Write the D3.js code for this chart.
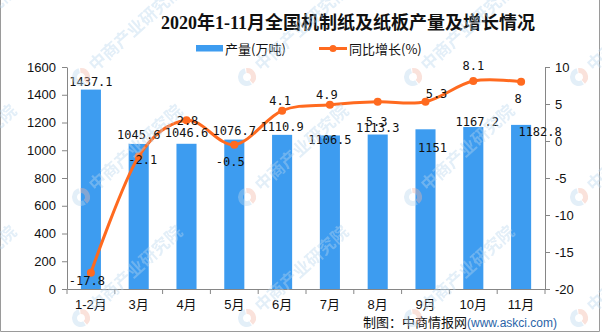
<!DOCTYPE html>
<html>
<head>
<meta charset="utf-8">
<script src="https://cdn.jsdelivr.net/npm/d3@7/dist/d3.min.js"></script>
<style>
  html, body { margin: 0; padding: 0; background: #fff; }
  svg { display: block; }
</style>
</head>
<body>
<svg id="chart" width="602" height="334"></svg>
<script>
// ---- data ----
const months = ["1-2月", "3月", "4月", "5月", "6月", "7月", "8月", "9月", "10月", "11月"];
const output = [1437.1, 1045.6, 1046.6, 1076.7, 1110.9, 1106.5, 1113.3, 1151, 1167.2, 1182.8];
const growth = [-17.8, -2.1, 2.8, -0.5, 4.1, 4.9, 5.3, 5.3, 8.1, 8];
const leftTicks = [0, 200, 400, 600, 800, 1000, 1200, 1400, 1600];
const rightTicks = [-20, -15, -10, -5, 0, 5, 10];
const title = "2020年1-11月全国机制纸及纸板产量及增长情况";
const seriesNames = ["产量(万吨)", "同比增长(%)"];

// label nudges (pixels) as placed in the original
const barLabelNudge = [[0,-8],[0,-9],[0,-11],[0,-9],[0,-8],[0,4],[0,-7],[7,19],[4,-5],[19,7]];
const lineLabelNudge = [[-4,8],[4,3],[1,1],[-4,17],[-2,-10],[-3,-10],[-1,20],[11,-8],[0,-15],[-3,17]];

const svg = d3.select("#chart");
const W = 602, H = 334;
const plot = {left: 67, right: 545, top: 67, bottom: 289};
const BAR = "#3d9cf0", LINE = "#ff6a1f", AXIS = "#868686";
const numFont = "'DejaVu Sans Mono', monospace";
const axFont = "'Liberation Sans', Arial, 'Noto Sans CJK SC', sans-serif";

const x = d3.scaleBand().domain(months).range([plot.left, plot.right]).padding(0);
const yL = d3.scaleLinear().domain([0, 1600]).range([plot.bottom, plot.top]);
const yR = d3.scaleLinear().domain([-20, 10]).range([plot.bottom, plot.top]);
const cx = d => x(d) + x.bandwidth() / 2;
const barW = x.bandwidth() * 0.42;

// border (left, bottom, right)
svg.append("path")
  .attr("d", `M0.5,0 V${H-2.5} H${W-2.5} V0`)
  .attr("fill", "none").attr("stroke", "#9a9a9a").attr("stroke-width", 1);

// title
svg.append("text")
  .attr("x", 348).attr("y", 29).attr("text-anchor", "middle")
  .attr("font-family", "'Liberation Serif', 'Noto Sans CJK SC', serif")
  .attr("font-weight", "bold").attr("font-size", 18).attr("fill", "#111")
  .text(title);

// legend
const lg = svg.append("g").attr("font-family", "'Noto Sans CJK SC', sans-serif").attr("font-size", 13).attr("fill", "#111");
lg.append("rect").attr("x", 196).attr("y", 45).attr("width", 27).attr("height", 6.5).attr("fill", BAR);
lg.append("text").attr("x", 225).attr("y", 53.5).text(seriesNames[0]);
lg.append("line").attr("x1", 319).attr("x2", 347).attr("y1", 48.5).attr("y2", 48.5)
  .attr("stroke", LINE).attr("stroke-width", 3);
lg.append("circle").attr("cx", 333).attr("cy", 48.5).attr("r", 3.5).attr("fill", LINE);
lg.append("text").attr("x", 349).attr("y", 53.5).text(seriesNames[1]);

// axes
const gL = svg.append("g").attr("transform", `translate(${plot.left},0)`)
  .call(d3.axisLeft(yL).tickValues(leftTicks).tickSize(5).tickPadding(6).tickSizeOuter(0)
    .tickFormat(d => String(d)));
const gR = svg.append("g").attr("transform", `translate(${plot.right},0)`)
  .call(d3.axisRight(yR).tickValues(rightTicks).tickSize(5).tickPadding(5).tickSizeOuter(0)
    .tickFormat(d => d < 0 ? "-" + Math.abs(d) : String(d)));
const gB = svg.append("g").attr("transform", `translate(0,${plot.bottom})`)
  .call(d3.axisBottom(x).tickSize(0).tickPadding(11).tickSizeOuter(0));
// category boundary ticks
gB.selectAll("line.bt").data(months.concat(["end"])).join("line").attr("class", "bt")
  .attr("x1", (d, i) => i < months.length ? x(d) : plot.right)
  .attr("x2", (d, i) => i < months.length ? x(d) : plot.right)
  .attr("y1", 0).attr("y2", 5).attr("stroke", AXIS);
[gL, gR, gB].forEach(g => {
  g.selectAll(".domain, .tick line").attr("stroke", AXIS);
  g.selectAll("text").attr("font-family", axFont).attr("font-size", 13).attr("fill", "#111");
});

// bars
svg.append("g").selectAll("rect").data(output).join("rect")
  .attr("x", (d, i) => cx(months[i]) - barW / 2)
  .attr("y", d => yL(d))
  .attr("width", barW)
  .attr("height", d => yL(0) - yL(d))
  .attr("fill", BAR);

// line
const pts = growth.map((g, i) => [cx(months[i]), yR(g)]);
svg.append("path")
  .attr("d", d3.line().curve(d3.curveCardinal.tension(0))(pts))
  .attr("fill", "none").attr("stroke", LINE).attr("stroke-width", 3);
svg.append("g").selectAll("circle").data(pts).join("circle")
  .attr("cx", d => d[0]).attr("cy", d => d[1]).attr("r", 4).attr("fill", LINE);

// bar labels
svg.append("g").selectAll("text").data(output).join("text")
  .attr("x", (d, i) => cx(months[i]) + barLabelNudge[i][0])
  .attr("y", (d, i) => yL(d) + barLabelNudge[i][1])
  .attr("dy", "0.35em").attr("text-anchor", "middle")
  .attr("font-family", numFont).attr("font-size", 12).attr("fill", "#111")
  .text(d => d);

// line labels
svg.append("g").selectAll("text").data(growth).join("text")
  .attr("x", (d, i) => cx(months[i]) + lineLabelNudge[i][0])
  .attr("y", (d, i) => yR(d) + lineLabelNudge[i][1])
  .attr("dy", "0.35em").attr("text-anchor", "middle")
  .attr("font-family", numFont).attr("font-size", 12).attr("fill", "#111")
  .text(d => d);

// source
const src = svg.append("text").attr("x", 557).attr("y", 327).attr("text-anchor", "end")
  .attr("font-family", "'Noto Sans CJK SC', sans-serif");
src.append("tspan").attr("font-size", 13).attr("fill", "#111").text("制图：中商情报网");
src.append("tspan").attr("font-size", 12).attr("fill", "#2a64a8")
  .attr("font-family", "'Liberation Sans', Arial, sans-serif").text("(www.askci.com)");

// watermark tiles
const wm = svg.append("g").attr("opacity", 0.4).attr("pointer-events", "none");
const wmX = [-85, 81, 247, 413, 579];
const wmY = [77, 197, 318];
wmY.forEach(yy => wmX.forEach(xx => {
  const g = wm.append("g").attr("transform", `translate(${xx},${yy}) rotate(-42)`);
  g.append("path").attr("d", d3.arc()({innerRadius: 4, outerRadius: 9, startAngle: Math.PI * 0.2, endAngle: Math.PI * 1.0}))
    .attr("fill", "#f3b6a6");
  g.append("path").attr("d", d3.arc()({innerRadius: 4, outerRadius: 9, startAngle: Math.PI * 1.05, endAngle: Math.PI * 2.15}))
    .attr("fill", "#b9d6ee");
  g.append("text").attr("x", 14).attr("y", 6)
    .attr("font-family", "'Noto Sans CJK SC', sans-serif").attr("font-weight", "bold")
    .attr("font-size", 17).attr("fill", "#b9d6ee").text("中商产业研究院");
}));
</script>
</body>
</html>
